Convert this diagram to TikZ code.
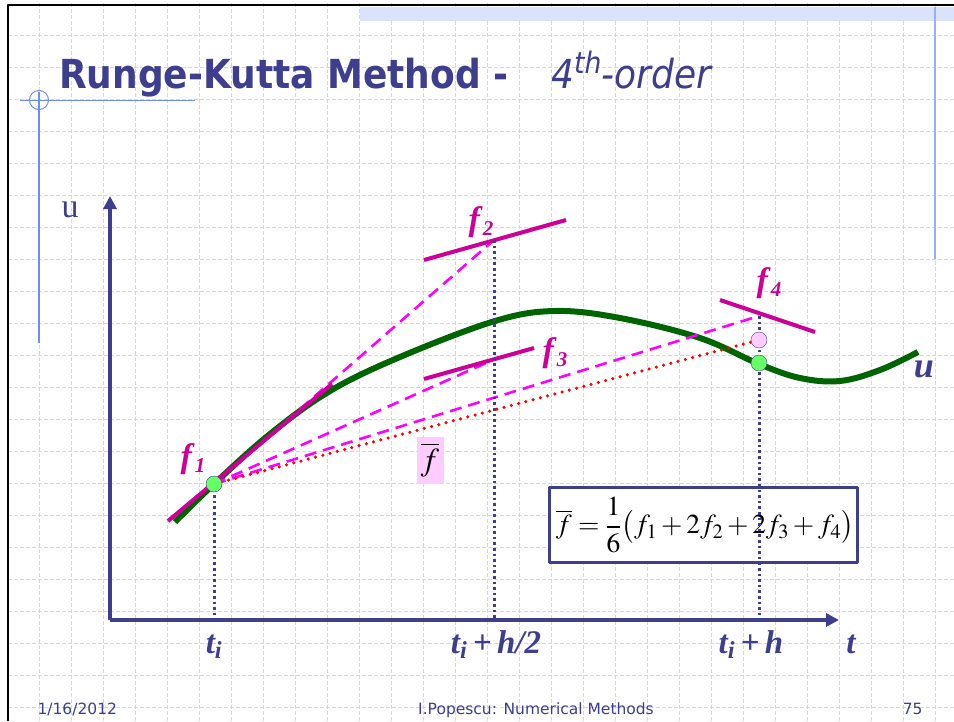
\documentclass[tikz,border=0pt]{standalone}
\usepackage{mathptmx}
\usepackage{fontspec}
\setmainfont{Liberation Serif}
\setsansfont{DejaVu Sans}
\usetikzlibrary{arrows.meta}

\definecolor{slideblue}{RGB}{62,62,142}
\definecolor{gridblue}{RGB}{202,214,252}
\definecolor{bandblue}{RGB}{218,227,251}
\definecolor{ruleblue}{RGB}{110,140,245}
\definecolor{fmag}{RGB}{204,0,153}
\definecolor{dashpink}{RGB}{255,0,255}
\definecolor{curvegreen}{RGB}{0,100,0}
\definecolor{dotgreen}{RGB}{102,255,102}
\definecolor{dotpink}{RGB}{255,204,255}

\newcommand{\flab}[1]{\textbf{\textit{f}}\raisebox{-0.3ex}{\fontsize{21}{21}\selectfont\textbf{\textit{#1}}}}

\begin{document}
\begin{tikzpicture}[x=1pt,y=-1pt,line join=round,
  gridline/.style={gridblue,line width=0.9pt,dash pattern=on 4pt off 2pt},
  flabel/.style={fmag,font=\fontsize{34}{36}\selectfont},
  tlabel/.style={slideblue,font=\bfseries\itshape\fontsize{33}{36}\selectfont,anchor=base},
  slope/.style={fmag,line width=4pt},
  stage/.style={dashpink,line width=2.6pt,dash pattern=on 12pt off 7pt},
  guide/.style={slideblue,line width=3pt,dash pattern=on 2.6pt off 3pt},
  foot/.style={slideblue,font=\sffamily\fontsize{15.5}{17}\selectfont,anchor=base}]

  \useasboundingbox (0,0) rectangle (954,721);

  % ---- slide background ----
  \foreach \gx in {39,71,...,935} \draw[gridline] (\gx,3) -- (\gx,721);
  \foreach \gy in {35,67,...,707} \draw[gridline] (8,\gy) -- (954,\gy);
  \fill[bandblue] (360,7) rectangle (954,21);
  \draw[line width=2.5pt] (8,721) -- (8,5) -- (954,5);
  \draw[ruleblue!70,line width=1.5pt] (935,7) -- (935,259);
  \draw[ruleblue,line width=1.5pt] (39,92) -- (39,343);
  \draw[ruleblue,line width=1pt] (20,100) -- (195,100);
  \draw[ruleblue,line width=1pt] (39,100) circle (9.5);

  % ---- title ----
  \node[anchor=base west,slideblue,xscale=0.9,font=\sffamily\bfseries\fontsize{40}{44}\selectfont]
    (title) at (56,88) {Runge-Kutta Method -};
  \node[anchor=base west,slideblue,xscale=0.9,font=\sffamily\itshape\fontsize{40}{44}\selectfont]
    (order) at (548,88) {4\textsuperscript{th}-order};

  % ---- axes ----
  \coordinate (origin) at (110,620);
  \coordinate (uend) at (110,196);
  \coordinate (tend) at (839,620);
  \draw[slideblue,line width=4pt,-{Triangle[length=13pt,width=13pt]}] (origin) -- (uend);
  \draw[slideblue,line width=4pt,-{Triangle[length=13pt,width=13pt]}] (origin) -- (tend);
  \node[slideblue,font=\fontsize{34}{34}\selectfont] (ulab) at (70,210) {u};

  % ---- stage points ----
  \coordinate (P1) at (214,484);
  \coordinate (P2) at (494,240);
  \coordinate (P3) at (494,359.5);
  \coordinate (P4) at (759,316);
  \coordinate (Q1) at (214,620);
  \coordinate (Q2) at (494,620);
  \coordinate (Q4) at (759,620);

  % ---- formula box ----
  \draw[slideblue,line width=3pt,fill=white] (549,487) rectangle (857,562);
  \node[font=\fontsize{27.5}{32}\selectfont] (mean) at (705,525)
    {$\overline{f}=\displaystyle\frac{1}{6}\bigl(f_1+2f_2+2f_3+f_4\bigr)$};

  % ---- solution curve ----
  \draw[curvegreen,line width=6pt] plot[smooth,tension=0.6] coordinates
    {(175,522) (214,484) (270,434) (330,391) (400,357) (495,321) (555,311)
     (620,318) (700,338) (759,364) (800,378) (840,381) (880,370) (918,352)};

  % ---- slopes ----
  \draw[stage] (P1) -- (P2);
  \draw[stage] (P1) -- (P3);
  \draw[stage] (P1) -- (P4);
  \draw[red,line width=3.5pt,line cap=round,dash pattern=on 0pt off 7.5pt] (P1) -- (759,340);

  \draw[slope] (168,521) -- (332,384);
  \draw[slope] (424,260) -- (566,220);
  \draw[slope] (424,379) -- (534,348);
  \draw[slope] (720,300) -- (815,332);

  % ---- guides down to the axis ----
  \draw[guide] (P1) -- (Q1);
  \draw[guide] (P2) -- (Q2);
  \draw[guide] (P4) -- (Q4);

  % ---- points ----
  \node[circle,draw=slideblue,fill=dotgreen,inner sep=0pt,minimum size=16pt] (n1) at (P1) {};
  \node[circle,draw=slideblue,fill=dotpink,inner sep=0pt,minimum size=16pt] (nbar) at (759,340) {};
  \node[circle,draw=slideblue,fill=dotgreen,inner sep=0pt,minimum size=16pt] (n4) at (759,363) {};

  % ---- labels ----
  \node[flabel] (f1) at (193,459) {\flab{1}};
  \node[flabel] (f2) at (481,222) {\flab{2}};
  \node[flabel] (f3) at (555,353) {\flab{3}};
  \node[flabel] (f4) at (769,283) {\flab{4}};
  \node[fill=dotpink,minimum width=27pt,minimum height=47pt,inner sep=0pt,
    font=\fontsize{32}{34}\selectfont] (fbar) at (430,460) {$\overline{f}$};
  \node[slideblue,font=\bfseries\itshape\fontsize{36}{36}\selectfont] (ucurve) at (924,369) {u};

  \node[tlabel] (ti) at (214,653) {t\textsubscript{i}};
  \node[tlabel] (tmid) at (496,653) {t\textsubscript{i}\,+\,h/2};
  \node[tlabel] (tend2) at (751,653) {t\textsubscript{i}\,+\,h};
  \node[tlabel] (tlab) at (851,653) {t};

  % ---- footer ----
  \node[foot,anchor=base west] (date) at (34,714) {1/16/2012};
  \node[foot] (course) at (536,714) {I.Popescu: Numerical Methods};
  \node[foot,anchor=base east] (page) at (926,714) {75};

\end{tikzpicture}
\end{document}
